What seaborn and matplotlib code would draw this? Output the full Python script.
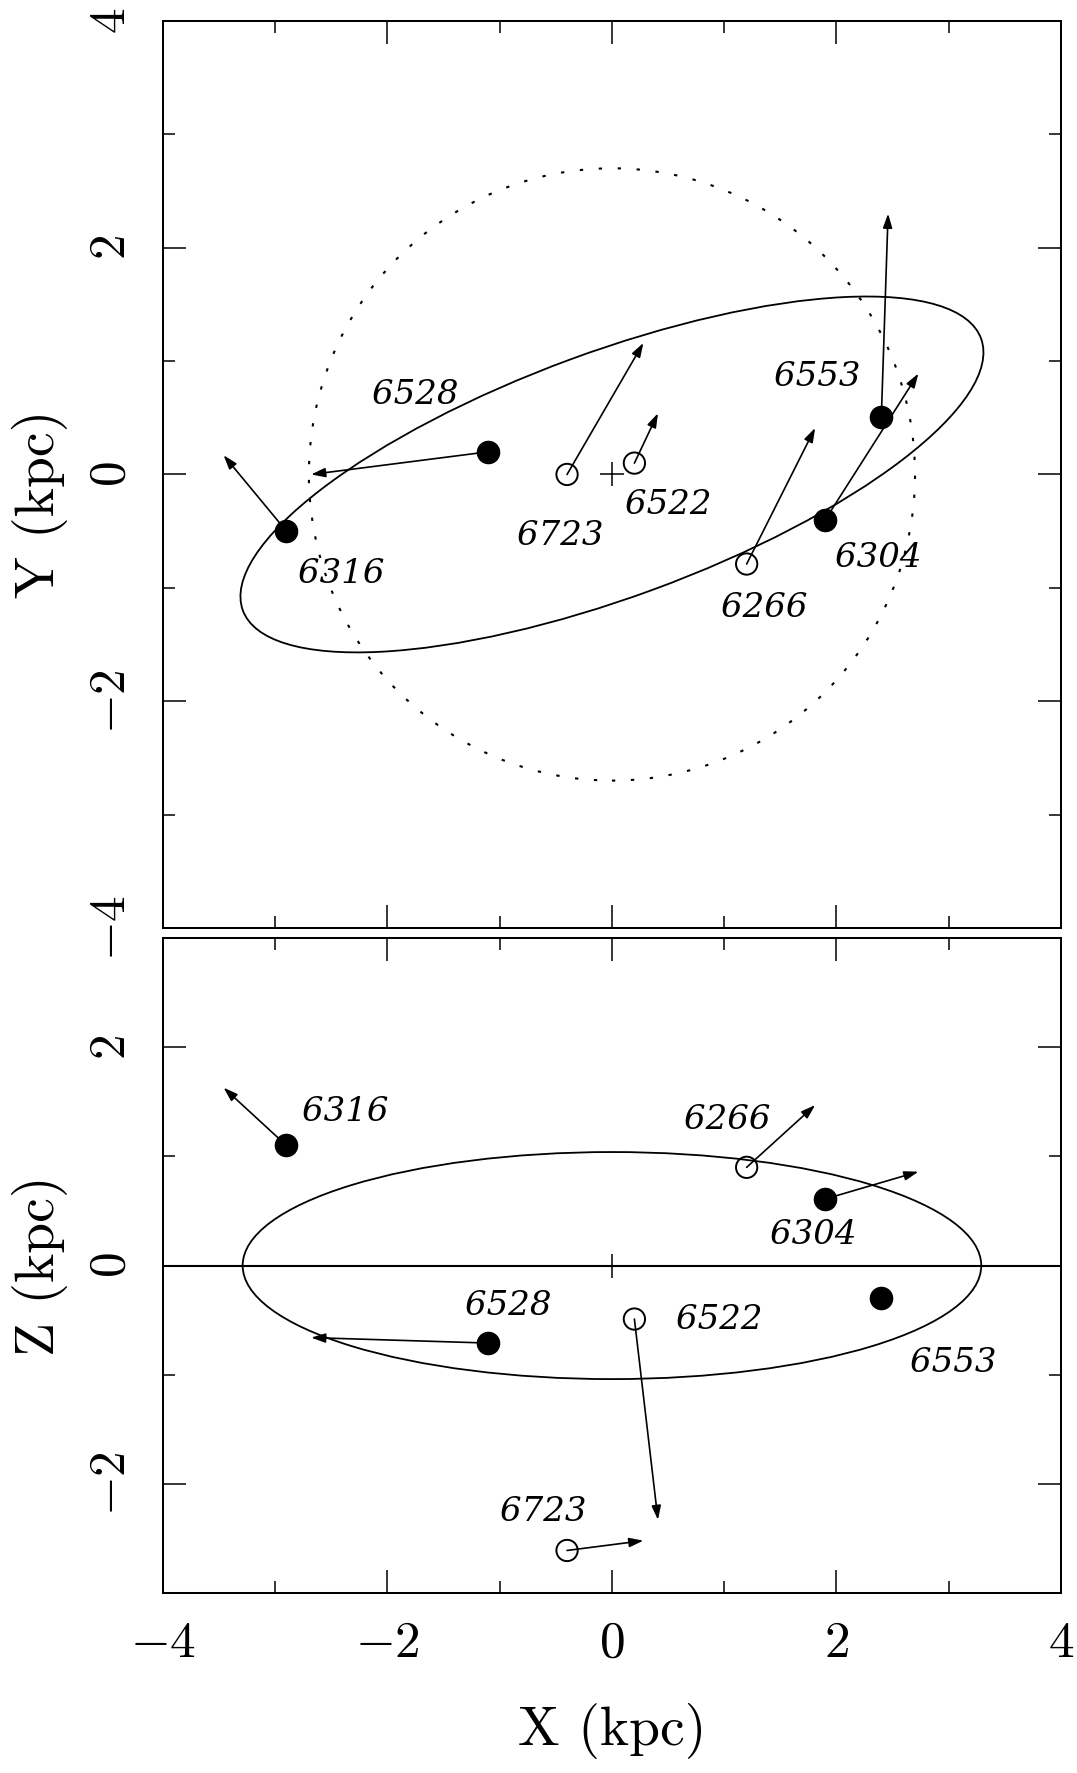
import numpy as np
import pandas as pd
import matplotlib
matplotlib.use("Agg")
import matplotlib.pyplot as plt
from matplotlib.patches import Ellipse, Circle
from matplotlib.ticker import MultipleLocator
import seaborn as sns

# ---------------- data ----------------
names   = ["6316", "6528", "6723", "6522", "6266", "6304", "6553"]
filled  = [True,   True,   False,  False,  False,  True,   True]
x_pos   = [-2.90, -1.10, -0.40,  0.20,  1.20,  1.90,  2.40]
y_pos   = [-0.50,  0.20,  0.00,  0.10, -0.79, -0.40,  0.51]
z_pos   = [ 1.10, -0.71, -2.61, -0.49,  0.90,  0.61, -0.30]
# arrow tips (velocity vectors)
x_tip   = [-3.46, -2.68,  0.28,  0.41,  1.81,  2.73,  2.46]
y_tip   = [ 0.17,  0.00,  1.16,  0.54,  0.41,  0.89,  2.30]
z_tip   = [ 1.63, -0.66, -2.52, -2.33,  1.47,  0.86, -0.21]
# label positions
xy_lab_x = [-2.41, -1.75, -0.46,  0.50,  1.36,  2.37,  1.83]
xy_lab_y = [-0.88,  0.70, -0.54, -0.27, -1.18, -0.74,  0.86]
xz_lab_x = [-2.38, -0.92, -0.61,  0.96,  1.03,  1.79,  3.04]
xz_lab_z = [ 1.41, -0.37, -2.26, -0.50,  1.33,  0.28, -0.89]

bar_a, bar_b_xy, bar_angle = 3.50, 1.08, 20.0
bar_half_x_xz, bar_half_z = 3.29, 1.04
circle_r = 2.70

df = pd.DataFrame({"name": names, "filled": filled, "X": x_pos, "Y": y_pos,
                   "Z": z_pos, "Xt": x_tip, "Yt": y_tip, "Zt": z_tip})

# ---------------- style ----------------
sns.set_theme(style="ticks")
plt.rcParams.update({
    "font.family": "serif",
    "font.serif": ["cmr10", "DejaVu Serif"],
    "mathtext.fontset": "cm",
    "axes.formatter.use_mathtext": True,
    "text.color": "black",
    "axes.labelcolor": "black",
    "axes.linewidth": 1.45,
    "axes.edgecolor": "black",
    "xtick.direction": "in", "ytick.direction": "in",
    "xtick.top": True, "ytick.right": True,
    "xtick.major.size": 16.5, "ytick.major.size": 16.5,
    "xtick.minor.size": 8.6, "ytick.minor.size": 8.6,
    "xtick.major.width": 1.1, "ytick.major.width": 1.1,
    "xtick.minor.width": 1.1, "ytick.minor.width": 1.1,
    "xtick.color": "black", "ytick.color": "black",
    "xtick.labelcolor": "black", "ytick.labelcolor": "black",
})

fig = plt.figure(figsize=(10.77, 17.73), dpi=100)
ax1 = fig.add_axes([0.1513, 0.4766, 0.8338, 0.5116])
ax2 = fig.add_axes([0.1513, 0.1015, 0.8338, 0.3694])

lab_font = dict(family="DejaVu Serif", style="italic", fontsize=24.5, color="black")
tick_fs = 37
label_fs = 40

def draw_arrows(ax, xs, ys, xt, yt):
    for a, b, c, d in zip(xs, ys, xt, yt):
        ax.annotate("", xy=(c, d), xytext=(a, b),
                    arrowprops=dict(arrowstyle="-|>,head_length=0.85,head_width=0.28",
                                    mutation_scale=10, lw=1.2, color="black",
                                    shrinkA=0, shrinkB=0), zorder=4)

def draw_points(ax, ycol):
    sns.scatterplot(data=df[df["filled"]], x="X", y=ycol, ax=ax, s=255,
                    color="black", edgecolor="black", linewidth=1.0, zorder=5,
                    legend=False)
    sns.scatterplot(data=df[~df["filled"]], x="X", y=ycol, ax=ax, s=235,
                    facecolor="none", edgecolor="black", linewidth=1.4, zorder=5,
                    legend=False)

# ---------------- top panel: X-Y ----------------
ax1.add_patch(Circle((0, 0), circle_r, fill=False, lw=1.5, color="black",
                     linestyle=(0, (1.6, 7.5))))
ax1.add_patch(Ellipse((0, 0), 2 * bar_a, 2 * bar_b_xy, angle=bar_angle,
                      fill=False, lw=1.3, color="black"))
ax1.plot([0], [0], marker="+", ms=17, mew=1.1, color="black", ls="none")
draw_arrows(ax1, x_pos, y_pos, x_tip, y_tip)
draw_points(ax1, "Y")
for n, lx, ly in zip(names, xy_lab_x, xy_lab_y):
    ax1.text(lx, ly, n, ha="center", va="center", **lab_font)

ax1.set_xlim(-4, 4)
ax1.set_ylim(-4, 4)
ax1.set_ylabel("Y (kpc)", fontsize=label_fs, va="center")
ax1.yaxis.set_label_coords(-0.137, 0.468)
ax1.set_xlabel("")
ax1.tick_params(axis="x", labelbottom=False)

# ---------------- bottom panel: X-Z ----------------
ax2.axhline(0, color="black", lw=1.5, zorder=2)
ax2.add_patch(Ellipse((0, 0), 2 * bar_half_x_xz, 2 * bar_half_z, angle=0,
                      fill=False, lw=1.3, color="black"))
ax2.plot([0], [0], marker="+", ms=17, mew=1.1, color="black", ls="none")
draw_arrows(ax2, x_pos, z_pos, x_tip, z_tip)
draw_points(ax2, "Z")
for n, lx, lz in zip(names, xz_lab_x, xz_lab_z):
    ax2.text(lx, lz, n, ha="center", va="center", **lab_font)

ax2.set_xlim(-4, 4)
ax2.set_ylim(-3, 3)
ax2.set_ylabel("Z (kpc)", fontsize=label_fs, va="center")
ax2.yaxis.set_label_coords(-0.137, 0.5)
ax2.set_xlabel("X (kpc)", fontsize=label_fs, va="center")
ax2.xaxis.set_label_coords(0.5, -0.211)

for ax in (ax1, ax2):
    ax.xaxis.set_major_locator(MultipleLocator(2))
    ax.xaxis.set_minor_locator(MultipleLocator(1))
    ax.yaxis.set_major_locator(MultipleLocator(2))
    ax.yaxis.set_minor_locator(MultipleLocator(1))
    ax.tick_params(which="both", top=True, right=True, direction="in")
    ax.tick_params(axis="y", labelrotation=90, labelsize=tick_fs, pad=20)
    ax.tick_params(axis="x", labelsize=tick_fs, pad=20)
    for lab in ax.get_yticklabels():
        lab.set_verticalalignment("center")
    ax.set_facecolor("white")

fig.patch.set_facecolor("white")
fig.savefig("out.png", dpi=100, facecolor="white")
